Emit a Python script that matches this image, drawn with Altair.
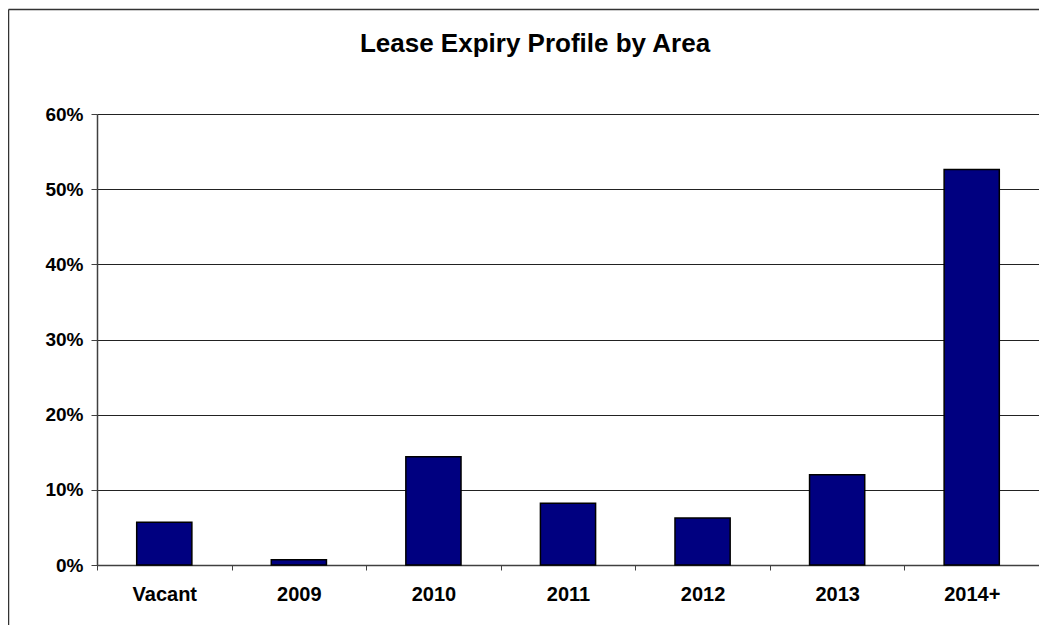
import altair as alt
import pandas as pd

categories = ["Vacant", "2009", "2010", "2011", "2012", "2013", "2014+"]
values = [0.057, 0.007, 0.144, 0.082, 0.0625, 0.120, 0.526]
y_ticks = [0.0, 0.1, 0.2, 0.3, 0.4, 0.5, 0.6]

FONT = "Liberation Sans"
W, H = 942, 451

df = pd.DataFrame({"category": categories, "value": values})

bars = alt.Chart(df).mark_bar(
    color="#000080", stroke="#000000", strokeWidth=1.5,
    width=alt.RelativeBandSize(0.41)
).encode(
    x=alt.X("category:N", sort=categories, title=None,
            scale=alt.Scale(paddingInner=0, paddingOuter=0),
            axis=alt.Axis(labelAngle=0, tickBand="extent", tickSize=5,
                          tickColor="#404040", domainColor="#404040",
                          domainWidth=1.5, labelFont=FONT, labelFontSize=20,
                          labelFontWeight="bold", labelColor="#000000",
                          labelPadding=14, grid=False)),
    y=alt.Y("value:Q", title=None,
            scale=alt.Scale(domain=[0, 0.6], nice=False),
            axis=alt.Axis(values=y_ticks, format=".0%", tickSize=6,
                          tickColor="#404040", domainColor="#404040",
                          domainWidth=1.5, gridColor="#222222", gridWidth=1,
                          labelFont=FONT, labelFontSize=19, labelFontWeight="bold",
                          labelColor="#000000", labelPadding=8))
)

one = pd.DataFrame({"a": [0]})
border_left = alt.Chart(one).mark_rule(color="#333333", strokeWidth=1.5, clip=False).encode(
    x=alt.value(-88.5), y=alt.value(-104.5), y2=alt.value(H + 200))
border_top = alt.Chart(one).mark_rule(color="#333333", strokeWidth=1.5, clip=False).encode(
    y=alt.value(-104.5), x=alt.value(-88.5), x2=alt.value(W + 200))

chart = alt.layer(bars, border_left, border_top).properties(
    width=W, height=H,
    autosize=alt.AutoSizeParams(type="none"),
    padding={"left": 89, "top": 106, "right": 0, "bottom": 60},
    title=alt.TitleParams("Lease Expiry Profile by Area", font=FONT, fontSize=26,
                          fontWeight="bold", color="#000000", anchor="middle",
                          dx=-33, offset=-48),
).configure_view(stroke="#808080", strokeWidth=1.5).configure(background="#ffffff")

chart.save("out.html", embed_options={"renderer": "svg", "actions": False})
